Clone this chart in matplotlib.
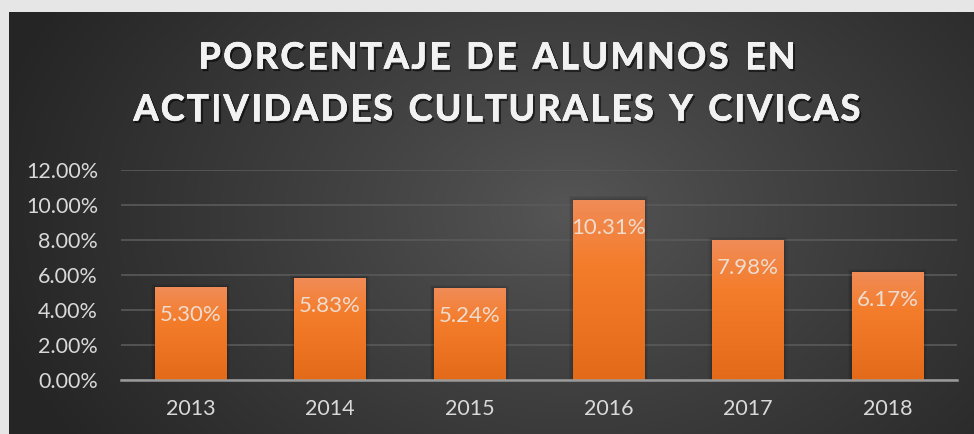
import numpy as np
import matplotlib
matplotlib.use("Agg")
import matplotlib.pyplot as plt
from matplotlib.patches import Rectangle
from matplotlib.ticker import FuncFormatter, MultipleLocator
import matplotlib.patheffects as pe

years = ["2013", "2014", "2015", "2016", "2017", "2018"]
values = [5.30, 5.83, 5.24, 10.31, 7.98, 6.17]
title_lines = ["PORCENTAJE DE ALUMNOS EN", "ACTIVIDADES CULTURALES Y CIVICAS"]

W, H = 974, 434
DPI = 100
FONT = "Lato"
plt.rcParams['font.family'] = [FONT, 'DejaVu Sans']

fig = plt.figure(figsize=(W / DPI, H / DPI), dpi=DPI)
fig.patch.set_facecolor("#e6e6e6")

# dark background panel with radial gradient
bg = fig.add_axes([9 / W, 0, 1 - 9 / W, 1 - 12 / H])
bg.set_axis_off()
yy, xx = np.mgrid[0:422, 0:965]
cx, cy = 560, 200
r = np.sqrt(((xx - cx) / 600.0) ** 2 + ((yy - cy) / 420.0) ** 2)
v = np.clip(0x56 - (0x56 - 0x25) * np.clip(r, 0, 1) ** 0.9, 0, 255) / 255.0
img = np.dstack([v, v, v])
bg.imshow(img, aspect="auto", extent=[0, 1, 0, 1], origin="upper")
bg.set_xlim(0, 1)
bg.set_ylim(0, 1)

# main axes
left, right = 121 / W, 957 / W
bottom, top = (H - 380) / H, (H - 170) / H
ax = fig.add_axes([left, bottom, right - left, top - bottom])
ax.set_facecolor("none")
ax.patch.set_alpha(0)
x = np.arange(len(years))
ax.set_xlim(-0.5, len(years) - 0.5)
ax.set_ylim(0, 12)
ax.yaxis.set_major_locator(MultipleLocator(2))
ax.yaxis.set_major_formatter(FuncFormatter(lambda val, pos: f"{val:.2f}%"))
ax.grid(axis="y", color="#5a5a5a", linewidth=1.2, zorder=0)
ax.set_axisbelow(True)
for s in ["top", "right", "left"]:
    ax.spines[s].set_visible(False)
ax.spines["bottom"].set_color("#9a9a9a")
ax.spines["bottom"].set_linewidth(1.8)
ax.spines["bottom"].set_zorder(5)
ax.tick_params(axis="both", length=0, colors="#d9d9d9", labelsize=15.5)
ax.tick_params(axis="y", pad=16.5)
ax.tick_params(axis="x", pad=14)
ax.set_xticks(x)
ax.set_xticklabels(years)
for lab in ax.get_xticklabels() + ax.get_yticklabels():
    lab.set_fontfamily(FONT)

bw = 0.51
bars = ax.bar(x, values, width=bw, color="none", zorder=3)

# orange vertical gradient
grad = np.linspace(0, 1, 256)
top_c = np.array([0xf0, 0x8c, 0x58]) / 255
mid_c = np.array([0xf4, 0x7d, 0x2c]) / 255
bot_c = np.array([0xe3, 0x6a, 0x19]) / 255
cols = np.zeros((256, 1, 3))
for i, g in enumerate(grad):
    if g < 0.35:
        t = g / 0.35
        cols[i, 0] = top_c * (1 - t) + mid_c * t
    else:
        t = (g - 0.35) / 0.65
        cols[i, 0] = mid_c * (1 - t) + bot_c * t

for b in bars:
    bx, by = b.get_x(), b.get_y()
    bwid, bh = b.get_width(), b.get_height()
    # soft shadow
    for k, a in [(0.06, 0.05), (0.04, 0.07), (0.02, 0.09)]:
        ax.add_patch(Rectangle((bx - k * 0.5, by), bwid + k, bh + k * 3, color="black",
                               alpha=a, zorder=2, linewidth=0))
    im = ax.imshow(cols, aspect="auto", extent=[bx, bx + bwid, by, by + bh],
                   origin="upper", zorder=3)
    im.set_clip_path(Rectangle((bx, by), bwid, bh, transform=ax.transData))
    ax.text(bx + bwid / 2, by + bh - 1.6, f"{bh:.2f}%", ha="center", va="center",
            color="#eedccf", fontsize=16, fontfamily=FONT, zorder=6)

ax.set_xlim(-0.5, len(years) - 0.5)
ax.set_ylim(0, 12)

# title with letter spacing
fig.canvas.draw()
renderer = fig.canvas.get_renderer()
fs_title = 26
centers_y = [H - 58, H - 110]
targets = [597, 727]
for line, cyp, target in zip(title_lines, centers_y, targets):
    widths = []
    for ch in line:
        t = fig.text(0, 0, ch if ch != " " else "n", fontsize=fs_title, fontweight="bold",
                     fontfamily=FONT)
        w = t.get_window_extent(renderer).width
        if ch == " ":
            w *= 0.55
        widths.append(w)
        t.remove()
    spacing = (target - sum(widths)) / (len(line) - 1)
    xs = 497 - target / 2
    for ch, w in zip(line, widths):
        if ch != " ":
            fig.text(xs / W, cyp / H, ch, fontsize=fs_title, fontweight="bold",
                     fontfamily=FONT, color="#f2f2f2", va="center", ha="left",
                     path_effects=[pe.SimpleLineShadow(offset=(1.2, -1.5), shadow_color="black",
                                                       alpha=0.5, linewidth=0.8),
                                   pe.withSimplePatchShadow(offset=(1.2, -1.5),
                                                            shadow_rgbFace="black", alpha=0.45),
                                   pe.withStroke(linewidth=0.5, foreground="#f2f2f2")])
        xs += w + spacing

fig.savefig("out.png", dpi=DPI, facecolor=fig.get_facecolor())
